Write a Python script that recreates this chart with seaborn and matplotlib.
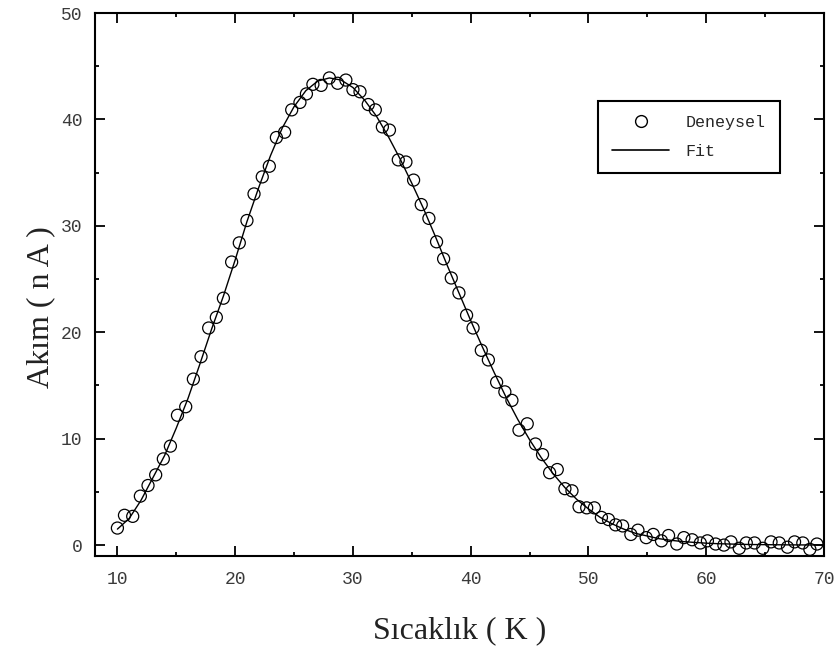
import numpy as np
import pandas as pd
import matplotlib
matplotlib.use("Agg")
import matplotlib.pyplot as plt
import seaborn as sns
from matplotlib.lines import Line2D
from matplotlib.ticker import MultipleLocator

# measured points (Deneysel)
temp_exp = [10.0, 10.6, 11.3, 11.95, 12.6, 13.25, 13.9, 14.5, 15.1, 15.8,
            16.45, 17.1, 17.75, 18.4, 19.0, 19.7, 20.35, 21.0, 21.6, 22.3,
            22.9, 23.5, 24.2, 24.8, 25.5, 26.05, 26.6, 27.3, 28.0, 28.7,
            29.4, 30.0, 30.6, 31.3, 31.9, 32.5, 33.1, 33.85, 34.5, 35.15,
            35.8, 36.45, 37.1, 37.7, 38.35, 39.0, 39.65, 40.2, 40.9, 41.5,
            42.2, 42.9, 43.5, 44.1, 44.8, 45.5, 46.1, 46.7, 47.35, 48.0,
            48.6, 49.2, 49.85, 50.5, 51.1, 51.7, 52.3, 52.9, 53.6, 54.2,
            54.9, 55.5, 56.2, 56.8, 57.5, 58.1, 58.8, 59.5, 60.1, 60.8,
            61.5, 62.1, 62.8, 63.4, 64.1, 64.8, 65.5, 66.2, 66.9, 67.5,
            68.2, 68.8, 69.4]
akim_exp = [1.6, 2.8, 2.7, 4.6, 5.6, 6.6, 8.1, 9.3, 12.2, 13.0,
            15.6, 17.7, 20.4, 21.4, 23.2, 26.6, 28.4, 30.5, 33.0, 34.6,
            35.6, 38.3, 38.8, 40.9, 41.6, 42.4, 43.3, 43.2, 43.9, 43.4,
            43.7, 42.8, 42.6, 41.4, 40.9, 39.3, 39.0, 36.2, 36.0, 34.3,
            32.0, 30.7, 28.5, 26.9, 25.1, 23.7, 21.6, 20.4, 18.3, 17.4,
            15.3, 14.4, 13.6, 10.8, 11.4, 9.5, 8.5, 6.8, 7.1, 5.3,
            5.1, 3.6, 3.5, 3.5, 2.6, 2.4, 1.9, 1.8, 1.0, 1.4,
            0.7, 1.0, 0.4, 0.9, 0.1, 0.7, 0.5, 0.2, 0.4, 0.1,
            0.0, 0.3, -0.3, 0.2, 0.2, -0.3, 0.3, 0.2, -0.2, 0.3,
            0.2, -0.4, 0.1]

# fit curve
temp_fit = list(range(10, 71))
akim_fit = [1.5, 2.5, 4.2, 6.3, 8.4, 11.0, 13.8, 17.0, 20.3, 23.4,
            26.8, 30.4, 33.6, 36.6, 39.2, 41.2, 42.7, 43.6, 43.9, 43.7,
            43.0, 41.8, 40.3, 38.4, 36.3, 34.0, 31.6, 29.0, 26.3, 23.7,
            21.1, 18.6, 16.2, 13.9, 11.8, 9.9, 8.2, 6.7, 5.4, 4.3,
            3.4, 2.6, 2.0, 1.5, 1.1, 0.85, 0.6, 0.45, 0.33, 0.25,
            0.18, 0.13, 0.1, 0.07, 0.05, 0.04, 0.03, 0.02, 0.015, 0.01,
            0.01]

exp_df = pd.DataFrame({"T": temp_exp, "I": akim_exp})
fit_df = pd.DataFrame({"T": temp_fit, "I": akim_fit})

sns.set_style("ticks")
plt.rcParams["font.family"] = ["Liberation Serif", "DejaVu Serif"]

fig = plt.figure(figsize=(8.38, 6.48), dpi=100)
ax = fig.add_axes([0.1134, 0.1424, 0.8699, 0.8375])

sns.scatterplot(data=exp_df, x="T", y="I", ax=ax, marker="o", s=75,
                facecolor="none", edgecolor="black", linewidth=0.9, zorder=2)
sns.lineplot(data=fit_df, x="T", y="I", ax=ax, color="black", linewidth=1.0,
             zorder=3)

ax.set_xlim(8.1, 70)
ax.set_ylim(-1, 50)
ax.xaxis.set_major_locator(MultipleLocator(10))
ax.xaxis.set_minor_locator(MultipleLocator(5))
ax.yaxis.set_major_locator(MultipleLocator(10))
ax.yaxis.set_minor_locator(MultipleLocator(5))
ax.tick_params(which="both", direction="in", top=True, right=True,
               color="black", width=1.3)
ax.tick_params(which="major", length=7)
ax.tick_params(which="minor", length=3)
ax.tick_params(axis="x", pad=11)
ax.tick_params(axis="y", pad=9)
for lab in ax.get_xticklabels() + ax.get_yticklabels():
    lab.set_fontfamily("Liberation Mono")
    lab.set_fontsize(13)
    lab.set_color("#3a3a3a")
for sp in ax.spines.values():
    sp.set_linewidth(1.5)
    sp.set_color("black")

ax.set_xlabel("Sıcaklık ( K )", fontsize=23, labelpad=20, color="#222222")
ax.set_ylabel("Akım ( n A )", fontsize=23, color="#222222")
ax.yaxis.set_label_coords(-0.055, 0.458)

handles = [
    Line2D([], [], marker="o", linestyle="none", markerfacecolor="none",
           markeredgecolor="black", markersize=8.5, markeredgewidth=1.0),
    Line2D([], [], color="black", linewidth=1.2),
]
leg = ax.legend(handles, ["Deneysel", "Fit"], loc="upper left",
                bbox_to_anchor=(0.69, 0.838), borderaxespad=0,
                fancybox=False, edgecolor="black", framealpha=1,
                prop={"family": "Liberation Mono", "size": 12},
                handlelength=3.4, handletextpad=1.0,
                borderpad=0.85, labelspacing=0.85)
leg.get_frame().set_linewidth(1.5)

fig.savefig("out.png", dpi=100)
